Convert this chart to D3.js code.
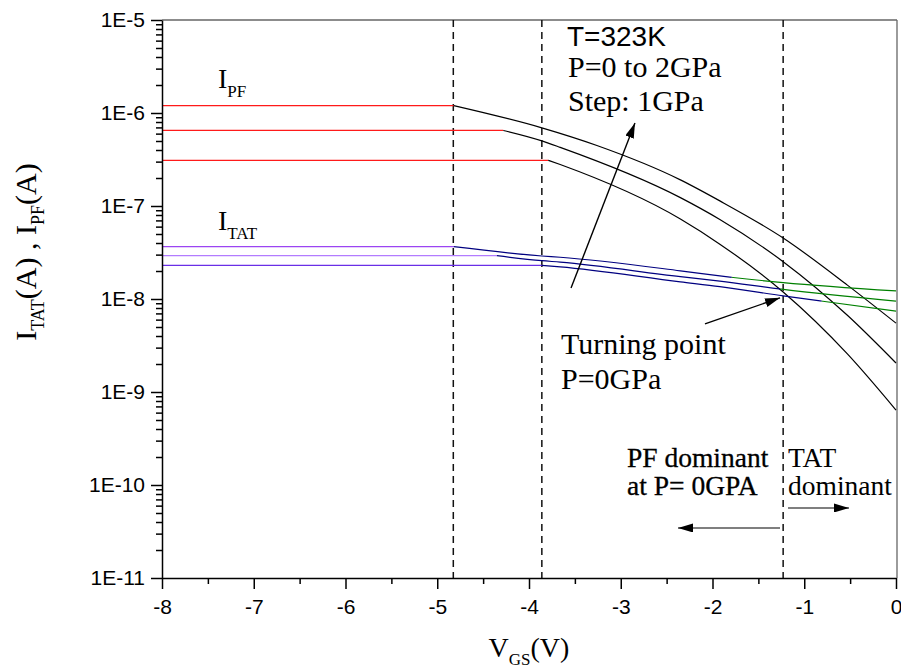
<!DOCTYPE html>
<html>
<head>
<meta charset="utf-8">
<script src="https://cdn.jsdelivr.net/npm/d3@7"></script>
<style>
  body { margin: 0; background: #fff; }
  svg { display: block; }
  .axis text { font-family: "Liberation Sans", Arial, sans-serif; font-size: 21px; fill: #000; }
  .serif { font-family: "Liberation Serif", "Times New Roman", serif; fill: #000; }
</style>
</head>
<body>
<svg id="chart" width="901" height="672"></svg>
<script>
// tick values
const xTicks = [-8, -7, -6, -5, -4, -3, -2, -1, 0];
const xMinor = [-7.5, -6.5, -5.5, -4.5, -3.5, -2.5, -1.5, -0.5];
const yTicks = [1e-11, 1e-10, 1e-9, 1e-8, 1e-7, 1e-6, 1e-5];

// I_PF curves (P = 0, 1, 2 GPa), first point = end of flat part
const pfV0 = [-3.79, -3.66, -2.35, -1.92, -1.23, -0.53, 0];
const pfI0 = [3.10e-7, 2.79e-7, 7.24e-8, 3.89e-8, 1.19e-8, 2.57e-9, 6.4e-10];
const pfV1 = [-4.28, -3.86, -3.66, -2.35, -1.92, -1.23, -0.53, 0];
const pfI1 = [6.49e-7, 5.01e-7, 4.27e-7, 1.23e-7, 7.16e-8, 2.52e-8, 6.68e-9, 2.05e-9];
const pfV2 = [-4.82, -3.86, -3.26, -2.35, -1.92, -1.23, -0.53, 0];
const pfI2 = [1.20e-6, 6.92e-7, 4.47e-7, 1.91e-7, 1.135e-7, 4.53e-8, 1.41e-8, 5.5e-9];

// I_TAT curves (P = 0, 1, 2 GPa)
const tatV0 = [-3.86, -3.66, -2.35, -1.92, -1.23, 0];
const tatI0 = [2.30e-8, 2.22e-8, 1.53e-8, 1.36e-8, 1.08e-8, 7.4e-9];
const tatV1 = [-4.35, -3.86, -3.66, -2.35, -1.92, -1.23, 0];
const tatI1 = [2.92e-8, 2.58e-8, 2.49e-8, 1.74e-8, 1.56e-8, 1.27e-8, 9.5e-9];
const tatV2 = [-4.82, -3.86, -3.66, -2.35, -1.92, -1.23, 0];
const tatI2 = [3.65e-8, 2.90e-8, 2.81e-8, 2.01e-8, 1.77e-8, 1.50e-8, 1.22e-8];
const tatGreenFrom = [-0.81, -1.26, -1.79];

const dashV = [-4.825, -3.86, -1.23];
const flatTat = ['#6a2ee6', '#b27cff', '#9b45f2'];

const x = d3.scaleLinear().domain([-8, 0]).range([162, 896]);
const y = d3.scaleLog().domain([1e-11, 1e-5]).range([578, 20]);

const svg = d3.select('#chart');

const zip = (vs, is) => vs.map((v, k) => [v, is[k]]);
const line = d3.line().x(d => x(d[0])).y(d => y(d[1])).curve(d3.curveMonotoneX);

const defs = svg.append('defs');
defs.append('marker')
  .attr('id', 'head')
  .attr('viewBox', '0 -4.5 15 9')
  .attr('refX', 15).attr('refY', 0)
  .attr('markerWidth', 15).attr('markerHeight', 9)
  .attr('markerUnits', 'userSpaceOnUse')
  .attr('orient', 'auto')
  .append('path').attr('d', 'M0,-4.5L15,0L0,4.5Z').attr('fill', '#000');

// frame
svg.append('line').attr('x1', x(-8)).attr('x2', x(0) + 1).attr('y1', y(1e-5)).attr('y2', y(1e-5))
  .attr('stroke', '#666').attr('stroke-width', 1.3);
svg.append('line').attr('x1', x(0) + 1).attr('x2', x(0) + 1).attr('y1', y(1e-5)).attr('y2', y(1e-11))
  .attr('stroke', '#666').attr('stroke-width', 1.3);

// dashed lines
svg.selectAll('.vdash').data(dashV).enter().append('line')
  .attr('x1', d => x(d)).attr('x2', d => x(d))
  .attr('y1', y(1e-5)).attr('y2', y(1e-11))
  .attr('stroke', '#111').attr('stroke-width', 1.5).attr('stroke-dasharray', '7,5');

// PF curves
const pf = [zip(pfV0, pfI0), zip(pfV1, pfI1), zip(pfV2, pfI2)];
pf.forEach(pts => {
  svg.append('path').attr('d', line([[-8, pts[0][1]], pts[0]]))
    .attr('fill', 'none').attr('stroke', '#ff1a1a').attr('stroke-width', 1.3);
  svg.append('path').attr('d', line(pts))
    .attr('fill', 'none').attr('stroke', '#000').attr('stroke-width', 1.2);
});

// TAT curves
const tat = [zip(tatV0, tatI0), zip(tatV1, tatI1), zip(tatV2, tatI2)];
tat.forEach((pts, k) => {
  svg.append('path').attr('d', line([[-8, pts[0][1]], pts[0]]))
    .attr('fill', 'none').attr('stroke', flatTat[k]).attr('stroke-width', 1.3);
  const split = tatGreenFrom[k];
  defs.append('clipPath').attr('id', 'cb' + k).append('rect')
    .attr('x', x(-8)).attr('y', 0).attr('width', x(split) - x(-8)).attr('height', 672);
  defs.append('clipPath').attr('id', 'cg' + k).append('rect')
    .attr('x', x(split)).attr('y', 0).attr('width', x(0) - x(split)).attr('height', 672);
  svg.append('path').attr('d', line(pts)).attr('clip-path', `url(#cb${k})`)
    .attr('fill', 'none').attr('stroke', '#000080').attr('stroke-width', 1.2);
  svg.append('path').attr('d', line(pts)).attr('clip-path', `url(#cg${k})`)
    .attr('fill', 'none').attr('stroke', '#008000').attr('stroke-width', 1.2);
});

// axes
const yMinor = [];
yTicks.slice(0, -1).forEach(d => { for (let m = 2; m <= 9; m++) yMinor.push(d * m); });

const gx = svg.append('g').attr('class', 'axis').attr('transform', `translate(0,${y(1e-11)})`)
  .call(d3.axisBottom(x).tickValues(xTicks).tickSize(11).tickSizeOuter(0).tickPadding(10)
    .tickFormat(d => d));
svg.append('g').attr('transform', `translate(0,${y(1e-11)})`)
  .call(d3.axisBottom(x).tickValues(xMinor).tickSize(6).tickSizeOuter(0).tickFormat(''))
  .select('.domain').remove();

const gy = svg.append('g').attr('class', 'axis').attr('transform', `translate(${x(-8)},0)`)
  .call(d3.axisLeft(y).tickValues(yTicks).tickSize(11).tickSizeOuter(0).tickPadding(6)
    .tickFormat(d => '1E' + Math.round(Math.log10(d))));
svg.append('g').attr('transform', `translate(${x(-8)},0)`)
  .call(d3.axisLeft(y).tickValues(yMinor).tickSize(6).tickSizeOuter(0).tickFormat(''))
  .select('.domain').remove();

svg.selectAll('.domain').attr('stroke', '#000').attr('stroke-width', 1.5);
svg.selectAll('.tick line').attr('stroke', '#000').attr('stroke-width', 1.5);
gx.selectAll('.tick text').attr('dy', '0.71em');

const serif = '"Liberation Serif", "Times New Roman", serif';

// axis titles
svg.append('text').attr('class', 'serif').attr('x', 529).attr('y', 657)
  .attr('text-anchor', 'middle').style('font-family', serif).style('font-size', '28px')
  .call(t => {
    t.append('tspan').text('V');
    t.append('tspan').attr('dy', 8).style('font-size', '17px').text('GS');
    t.append('tspan').attr('dy', -8).text('(V)');
  });

svg.append('text').attr('class', 'serif')
  .attr('transform', 'translate(36,252) rotate(-90)')
  .attr('text-anchor', 'middle').style('font-family', serif).style('font-size', '30px')
  .call(t => {
    t.append('tspan').text('I');
    t.append('tspan').attr('dy', 8).style('font-size', '18px').text('TAT');
    t.append('tspan').attr('dy', -8).text('(A) , I');
    t.append('tspan').attr('dy', 8).style('font-size', '18px').text('PF');
    t.append('tspan').attr('dy', -8).text('(A)');
  });

// curve labels
const subLabel = (px, py, main, sub) => {
  const t = svg.append('text').attr('class', 'serif').attr('x', px).attr('y', py)
    .style('font-family', serif).style('font-size', '28px');
  t.append('tspan').text(main);
  t.append('tspan').attr('dy', 9).style('font-size', '17px').text(sub);
};
subLabel(218, 88, 'I', 'PF');
subLabel(218, 230, 'I', 'TAT');

// annotation texts
svg.append('text').attr('x', 567).attr('y', 46)
  .style('font-family', '"Liberation Sans", Arial, sans-serif').style('font-size', '28px').text('T=323K');
const note = (px, py, s, size) => svg.append('text').attr('class', 'serif')
  .attr('x', px).attr('y', py).style('font-family', serif).style('font-size', size + 'px').text(s);
note(568, 77, 'P=0 to 2GPa', 30);
note(568, 111, 'Step: 1GPa', 30);
note(561, 354, 'Turning point', 30);
note(561, 389, 'P=0GPa', 30);
note(627, 467, 'PF dominant', 27.5).attr('stroke', '#000').attr('stroke-width', 0.3);
note(627, 495, 'at P= 0GPA', 27.5).attr('stroke', '#000').attr('stroke-width', 0.3);
note(788, 467, 'TAT', 27.5);
note(788, 495, 'dominant', 27.5);

// arrows (data coordinates)
const arrowFrom = [[-3.542, 1.31e-8], [-2.082, 5.4e-9], [-1.264, 3.45e-11], [-1.177, 5.66e-11]];
const arrowTo = [[-2.845, 7.8e-7], [-1.264, 1.03e-8], [-2.376, 3.45e-11], [-0.512, 5.66e-11]];
const arrowColor = ['#000', '#000', '#555', '#555'];
svg.selectAll('.arrow').data(arrowFrom).enter().append('line')
  .attr('x1', d => x(d[0])).attr('y1', d => y(d[1]))
  .attr('x2', (d, k) => x(arrowTo[k][0])).attr('y2', (d, k) => y(arrowTo[k][1]))
  .attr('stroke', (d, k) => arrowColor[k]).attr('stroke-width', 1.4)
  .attr('marker-end', 'url(#head)');
</script>
</body>
</html>
